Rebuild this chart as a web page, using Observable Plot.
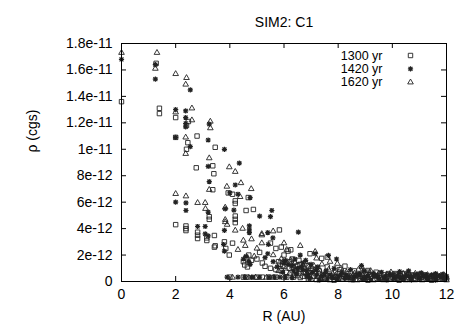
<!DOCTYPE html>
<html>
<head>
<meta charset="utf-8">
<script src="https://cdn.jsdelivr.net/npm/d3@7"></script>
<script src="https://cdn.jsdelivr.net/npm/@observablehq/plot@0.6"></script>
<style>
  html, body { margin: 0; padding: 0; background: white; }
</style>
</head>
<body>
<div id="chart"></div>
<script>
// values: [R (AU), rho in units of 1e-12 cgs]
const s1300 = [
  [0,13.6],[1.28,16.5],[1.4,13.1],[1.4,12.7],[2.0,12.4],[2.0,10.9],[2.47,12.1],[2.4,11.8],[2.45,10.5],[2.4,10.0],[2.79,11.0],[3.46,10.15],[2.76,8.6],[3.37,8.75],[3.41,8.15],[3.37,6.94],
  [2.0,4.3],[2.38,4.2],[2.38,4.0],[2.38,3.85],[2.81,3.73],[2.81,3.5],[2.81,3.25],[3.24,4.9],[3.24,4.7],[3.15,3.3],[3.15,3.1],[3.43,3.48],[3.46,2.7],[3.43,2.6],
  [3.94,6.7],[4.1,6.6],[4.2,6.1],[4.2,5.9],[4.68,6.35],[4.6,5.37],[4.87,5.45],[4.2,4.95],[4.2,4.7],[4.2,4.45],[3.8,3.0],[3.85,2.5],[3.98,2.0],[4.1,2.9],[4.5,1.5],[4.6,1.8],[4.7,2.0],[4.8,1.6],[4.55,1.25],[4.65,1.1],[5.0,1.7],[5.1,2.2],[5.2,1.4],[5.3,1.15],[5.83,3.9],[5.5,2.9],[5.7,2.5],[5.9,2.6],[6.15,2.3],[6.25,2.4],[6.0,2.0],[5.8,1.5],[6.3,1.7],[6.5,1.2],[6.96,2.1],[7.39,1.75],[7.6,1.85],[8.25,1.16],[9.1,0.83],[9.1,0.7],[5.5,1.0],[5.9,0.8],[6.2,1.0],[6.6,0.9],
  [5.7,0.9],[5.95,1.2],[6.1,0.7],[6.3,1.1],[6.45,0.8],[6.6,1.3],[6.75,0.7],[6.9,1.2],[7.05,0.8],[5.85,1.3],[6.2,1.5],[6.55,1.6],
  [4.0,0.33],[4.5,0.33],[4.6,0.33],[5.2,0.33],[5.7,0.33],[6.1,0.33],[6.6,0.3],[5.0,0.33],[5.45,0.33],[6.35,0.33],
  [6.8,0.6],[7.0,1.0],[7.1,0.4],[7.3,0.8],[7.45,0.5],[7.6,1.1],[7.8,0.3],[7.9,0.7],[8.05,0.9],[8.2,0.4],[8.35,0.6],[8.5,0.3],[8.6,0.8],[8.75,0.5],[8.9,0.3],[9.0,0.6],[9.25,0.4],[9.4,0.7],[9.55,0.3],[9.7,0.5],[9.85,0.6],[10.0,0.3],[10.15,0.5],[10.3,0.4],[10.45,0.6],[10.6,0.3],[10.75,0.5],[10.9,0.4],[11.05,0.3],[11.2,0.5],[11.35,0.3],[11.5,0.45],[11.65,0.3],[11.8,0.4],[11.95,0.3],[12.0,0.2],
  [6.9,0.2],[7.2,0.15],[7.5,0.25],[7.85,0.1],[8.15,0.2],[8.45,0.15],[8.8,0.2],[9.1,0.1],[9.35,0.2],[9.65,0.15],[9.95,0.2],[10.25,0.1],[10.55,0.2],[10.85,0.15],[11.15,0.2],[11.45,0.1],[11.75,0.2],
  [6.4,0.5],[6.7,0.4],[7.15,0.6],[7.4,0.3],[7.7,0.45],[8.0,0.6],[8.3,0.35],[8.65,0.45],[9.05,0.5],[9.45,0.45],[9.8,0.35],[10.1,0.6],[10.4,0.25],[10.7,0.45],[11.0,0.55],[11.3,0.4],[11.6,0.5],[11.9,0.45]
];
const s1420 = [
  [0,16.8],[1.25,16.4],[1.25,15.3],[2.54,14.5],[2.0,13.0],[2.37,12.9],[2.37,12.4],[2.37,11.95],[2.37,11.7],[3.24,11.9],[2.0,10.9],[3.2,10.7],[2.54,10.2],[3.8,10.0],[3.2,8.7],[4.35,8.95],[3.24,7.56],[4.2,7.3],[4.0,6.7],[4.3,6.6],[4.75,6.35],[2.0,6.0],[2.38,5.95],[2.38,5.37],[3.2,5.25],[3.83,5.5],[4.15,5.4],[5.55,5.37],[5.1,4.94],[5.5,4.9],[2.81,4.16],[3.09,4.16],[3.09,3.6],[3.2,3.45],[3.8,3.86],[4.72,4.2],[4.72,3.9],[4.72,3.7],[5.4,3.7],[5.59,3.3],[6.53,3.73],[3.77,2.8],[3.8,2.3],[4.6,1.9],[4.7,1.5],[4.5,1.7],[4.75,1.3],[5.42,2.8],[5.4,2.1],[5.6,1.5],[5.3,1.8],[6.6,2.0],[6.8,1.6],[6.3,1.2],[6.0,1.4],[7.15,2.1],[7.64,1.97],[7.94,1.7],[8.86,1.2],[10.6,0.8],[10.27,0.75],[11.07,0.66],[11.6,0.6],
  [5.75,1.1],[5.95,0.7],[6.15,1.3],[6.35,0.8],[6.5,1.0],[6.7,1.4],[6.85,0.8],[7.0,1.3],[7.2,0.9],[6.05,1.6],[6.4,1.7],[6.65,1.1],
  [3.9,0.33],[4.3,0.33],[4.8,0.33],[4.85,0.33],[5.45,0.33],[5.85,0.33],[6.3,0.3],[4.55,0.33],[5.1,0.33],[5.65,0.33],[6.05,0.33],
  [6.7,0.9],[6.9,0.5],[7.05,0.7],[7.25,1.1],[7.4,0.4],[7.55,0.8],[7.7,0.5],[7.85,1.0],[8.0,0.4],[8.15,0.7],[8.3,0.5],[8.45,0.9],[8.6,0.35],[8.8,0.6],[8.95,0.8],[9.1,0.4],[9.3,0.6],[9.45,0.35],[9.6,0.7],[9.75,0.4],[9.9,0.55],[10.05,0.35],[10.2,0.45],[10.4,0.3],[10.5,0.55],[10.7,0.35],[10.85,0.5],[11.0,0.3],[11.15,0.45],[11.3,0.35],[11.45,0.5],[11.6,0.3],[11.75,0.45],[11.9,0.3],[12.0,0.4],
  [6.95,0.25],[7.3,0.1],[7.6,0.2],[7.95,0.15],[8.25,0.25],[8.55,0.1],[8.9,0.2],[9.2,0.15],[9.5,0.2],[9.8,0.1],[10.1,0.2],[10.4,0.15],[10.7,0.1],[11.0,0.2],[11.3,0.15],[11.6,0.1],[11.9,0.2],
  [6.45,0.6],[6.85,0.35],[7.2,0.5],[7.5,0.6],[7.8,0.3],[8.1,0.5],[8.4,0.3],[8.7,0.5],[9.0,0.3],[9.35,0.45],[9.7,0.25],[10.0,0.5],[10.3,0.3],[10.6,0.4],[10.95,0.55],[11.25,0.5],[11.55,0.4],[11.85,0.55]
];
const s1620 = [
  [0,17.3],[1.31,17.3],[1.25,16.1],[2.0,15.7],[2.4,15.4],[2.37,14.9],[2.0,12.8],[2.6,13.1],[2.6,12.2],[3.28,12.1],[3.28,11.6],[2.37,10.9],[2.37,9.66],[3.24,9.33],[3.98,8.65],[4.2,8.3],[3.89,7.18],[4.41,7.45],[4.79,7.0],[2.0,6.63],[2.38,6.45],[2.81,5.95],[3.09,5.95],[3.1,5.5],[3.24,6.94],[3.83,4.5],[3.9,4.3],[4.38,6.4],[3.83,5.6],[4.2,3.86],[4.47,4.0],[4.8,3.2],[3.83,4.67],[5.18,3.6],[5.6,3.8],[5.18,2.9],[4.5,3.1],[4.57,2.7],[6.0,2.9],[6.1,2.4],[6.6,2.7],[7.15,2.25],[7.2,1.75],[7.7,1.5],[7.97,1.35],[8.87,1.1],[5.18,3.5],[4.3,2.4],[4.9,1.9],[5.0,2.5],[5.6,2.0],[5.9,1.7],[6.4,1.4],[6.9,1.1],[7.4,1.3],
  [5.8,0.8],[6.0,1.1],[6.2,0.6],[6.35,1.2],[6.55,0.9],[6.7,1.25],[6.9,0.7],[7.1,1.2],[7.3,0.9],[5.95,1.45],[6.25,1.6],[6.8,1.5],
  [4.1,0.3],[4.95,0.3],[5.6,0.3],[6.0,0.3],[4.7,0.3],[5.35,0.3],
  [6.55,0.7],[6.75,1.0],[6.95,0.4],[7.15,0.9],[7.3,0.6],[7.5,0.3],[7.65,0.9],[7.8,0.6],[7.95,0.3],[8.1,1.0],[8.3,0.7],[8.45,0.4],[8.6,0.6],[8.75,0.9],[8.9,0.5],[9.05,0.3],[9.2,0.8],[9.35,0.5],[9.5,0.6],[9.65,0.3],[9.8,0.5],[9.95,0.7],[10.1,0.4],[10.25,0.3],[10.4,0.6],[10.55,0.45],[10.7,0.3],[10.85,0.6],[11.0,0.45],[11.15,0.3],[11.3,0.5],[11.45,0.35],[11.6,0.45],[11.75,0.3],[11.9,0.5],[12.0,0.3],
  [7.0,0.15],[7.35,0.2],[7.7,0.1],[8.0,0.2],[8.35,0.15],[8.7,0.1],[9.0,0.2],[9.3,0.1],[9.6,0.2],[9.9,0.15],[10.2,0.2],[10.5,0.1],[10.8,0.2],[11.1,0.1],[11.4,0.2],[11.7,0.15],[12.0,0.1],
  [6.5,0.4],[6.85,0.6],[7.25,0.35],[7.55,0.55],[7.9,0.45],[8.2,0.3],[8.55,0.5],[8.85,0.35],[9.15,0.5],[9.45,0.4],[9.75,0.3],[10.05,0.5],[10.35,0.4],[10.65,0.5],[10.95,0.3],[11.25,0.35],[11.55,0.25],[11.85,0.35]
];

const seriesLabels = ["1300 yr", "1420 yr", "1620 yr"];
const xTicks = [0, 2, 4, 6, 8, 10, 12];
const yTickValues = [0, 2e-12, 4e-12, 6e-12, 8e-12, 1e-11, 1.2e-11, 1.4e-11, 1.6e-11, 1.8e-11];
const yTickLabels = ["0", "2e-12", "4e-12", "6e-12", "8e-12", "1e-11", "1.2e-11", "1.4e-11", "1.6e-11", "1.8e-11"];
const title = "SIM2: C1";
const xLabel = "R (AU)";
const yLabel = "ρ (cgs)";

const yLabelMap = new Map(yTickValues.map((v, i) => [v, yTickLabels[i]]));

// gnuplot-style star: plus overlaid with a cross
const star = {
  draw(ctx, size) {
    const r = Math.sqrt(size / Math.PI);
    const d = r * 0.75;
    ctx.moveTo(-r, 0); ctx.lineTo(r, 0);
    ctx.moveTo(0, -r); ctx.lineTo(0, r);
    ctx.moveTo(-d, -d); ctx.lineTo(d, d);
    ctx.moveTo(-d, d); ctx.lineTo(d, -d);
  }
};

const series = [
  {data: s1300, symbol: "square", r: 2.5, sw: 0.9},
  {data: s1420, symbol: star, r: 2.6, sw: 1.2},
  {data: s1620, symbol: "triangle", r: 2.1, sw: 0.9}
];

const W = 467, H = 327;
const mL = 121, mR = 21, mT = 43, mB = 46;
const pw = W - mL - mR, ph = H - mT - mB;
const font = "'Liberation Sans', Arial, Helvetica, sans-serif";
const ink = "#222";

const marks = [];
series.forEach(s => {
  marks.push(Plot.dot(s.data, {
    x: d => d[0], y: d => d[1] * 1e-12,
    symbol: s.symbol, r: s.r, stroke: ink, strokeWidth: s.sw, fill: "none"
  }));
});
// legend
series.forEach((s, i) => {
  marks.push(Plot.text([seriesLabels[i]], {
    text: d => d, frameAnchor: "top-right", dx: -64, dy: 12 + 13.4 * i,
    textAnchor: "end", lineAnchor: "middle", fontSize: 12.5, fill: "black"
  }));
  marks.push(Plot.dot([seriesLabels[i]], {
    frameAnchor: "top-right", dx: -36, dy: 12 + 13.4 * i,
    symbol: s.symbol, r: s.r, stroke: ink, strokeWidth: s.sw, fill: "none"
  }));
});

const chart = Plot.plot({
  width: W, height: H,
  marginLeft: mL, marginRight: mR, marginTop: mT, marginBottom: mB,
  style: {fontFamily: font, background: "white", color: "black", overflow: "visible"},
  x: {domain: [0, 12]},
  y: {domain: [0, 1.8e-11]},
  marks: [
    Plot.axisX({ticks: xTicks, tickSize: 0, tickPadding: 8, fontSize: 14, label: null, fill: "black"}),
    Plot.axisY({ticks: yTickValues, tickSize: 0, tickPadding: 9, fontSize: 14, label: null, fill: "black",
      tickFormat: d => yLabelMap.get(d)}),
    Plot.tickY(yTickValues, {y: d => d, insetRight: pw - 5, stroke: "black"}),
    Plot.tickY(yTickValues, {y: d => d, insetLeft: pw - 5, stroke: "black"}),
    Plot.tickX(xTicks, {x: d => d, insetTop: ph - 5, stroke: "black"}),
    Plot.tickX(xTicks, {x: d => d, insetBottom: ph - 5, stroke: "black"}),
    ...marks,
    Plot.frame({stroke: "black"}),
    Plot.text([title], {text: d => d, frameAnchor: "top", dy: -21, fontSize: 14, lineAnchor: "middle", fill: "black"}),
    Plot.text([xLabel], {text: d => d, frameAnchor: "bottom", dy: 35, fontSize: 14, lineAnchor: "middle", fill: "black"}),
    Plot.text([yLabel], {text: d => d, frameAnchor: "left", dx: -89, dy: -10, rotate: -90, fontSize: 14, lineAnchor: "middle", fill: "black"})
  ]
});
document.getElementById("chart").appendChild(chart);
</script>
</body>
</html>
